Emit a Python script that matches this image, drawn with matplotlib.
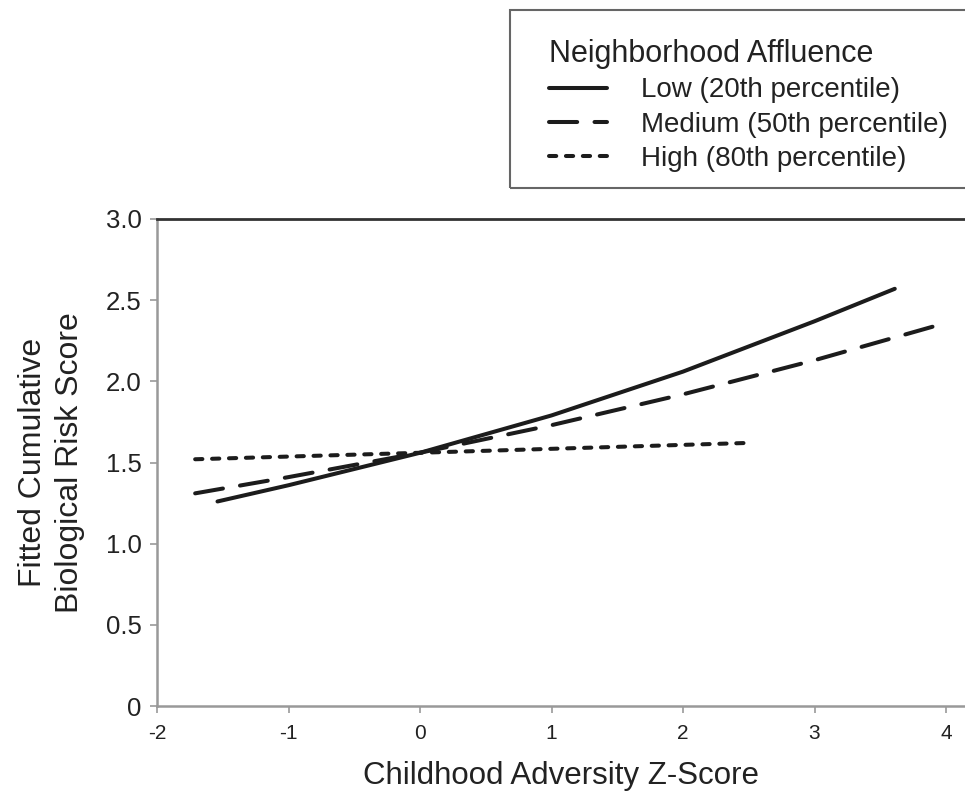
import matplotlib
matplotlib.use("Agg")
import matplotlib.pyplot as plt
from matplotlib.patches import Rectangle

plt.rcParams["font.family"] = ["Liberation Sans", "DejaVu Sans"]

# Fitted curves
low_x = [-1.54, -1.0, 0.0, 1.0, 2.0, 3.0, 3.61]
low_y = [1.26, 1.36, 1.56, 1.79, 2.06, 2.37, 2.57]

med_x = [-1.71, -1.0, 0.0, 1.0, 2.0, 3.0, 4.0]
med_y = [1.31, 1.41, 1.56, 1.73, 1.92, 2.13, 2.36]

high_x = [-1.71, 0.0, 2.47]
high_y = [1.52, 1.56, 1.62]

series_labels = ["Low (20th percentile)", "Medium (50th percentile)", "High (80th percentile)"]
legend_title = "Neighborhood Affluence"

x_ticks = [-2, -1, 0, 1, 2, 3, 4]
x_ticklabels = ["-2", "-1", "0", "1", "2", "3", "4"]
y_ticks = [0, 0.5, 1.0, 1.5, 2.0, 2.5, 3.0]
y_ticklabels = ["0", "0.5", "1.0", "1.5", "2.0", "2.5", "3.0"]

line_color = "#1c1c1c"
text_color = "#222222"

fig = plt.figure(figsize=(9.65, 7.94), dpi=100)
ax = fig.add_axes([0.1627, 0.1108, 0.8373, 0.6134])

lw = 2.9
ax.plot(low_x, low_y, color=line_color, linewidth=lw, solid_capstyle="round",
        label=series_labels[0])
ax.plot(med_x, med_y, color=line_color, linewidth=lw, dash_capstyle="round",
        dashes=(7.0, 4.3), label=series_labels[1])
ax.plot(high_x, high_y, color=line_color, linewidth=lw, dash_capstyle="round",
        dashes=(1.8, 2.4), label=series_labels[2])

ax.set_xlim(-2, 4.144)
ax.set_ylim(0, 3.0)
ax.set_xticks(x_ticks)
ax.set_xticklabels(x_ticklabels, fontsize=15, color=text_color)
ax.set_yticks(y_ticks)
ax.set_yticklabels(y_ticklabels, fontsize=18.5, color=text_color)
ax.tick_params(axis="both", direction="out", length=5, width=1.2, color="#999999")
ax.tick_params(axis="x", pad=8)
ax.tick_params(axis="y", pad=6)

ax.spines["right"].set_visible(False)
ax.spines["top"].set_color("#333333")
ax.spines["top"].set_linewidth(2)
ax.spines["left"].set_color("#999999")
ax.spines["bottom"].set_color("#999999")
ax.spines["left"].set_linewidth(1.8)
ax.spines["bottom"].set_linewidth(1.8)

ax.set_xlabel("Childhood Adversity Z-Score", fontsize=22.5, color=text_color, labelpad=13)
ax.set_ylabel("Fitted Cumulative\nBiological Risk Score", fontsize=23, color=text_color,
              labelpad=15, linespacing=1.3)

# Legend box runs off the right edge of the figure
fig.patches.append(Rectangle((510 / 965, 1 - 188 / 794), 0.5, 178 / 794,
                             transform=fig.transFigure, facecolor="none",
                             edgecolor="#666666", linewidth=1.5, clip_on=False))
leg = fig.legend(loc="upper left", bbox_to_anchor=(549 / 965, 1 - 39 / 794),
                 frameon=False, fontsize=20, title=legend_title, title_fontsize=22,
                 alignment="left", handlelength=2.1, handletextpad=1.2,
                 labelspacing=0.3, borderaxespad=0, borderpad=0)
for t in leg.get_texts():
    t.set_color(text_color)
leg.get_title().set_color(text_color)

fig.savefig("out.png", dpi=100)
